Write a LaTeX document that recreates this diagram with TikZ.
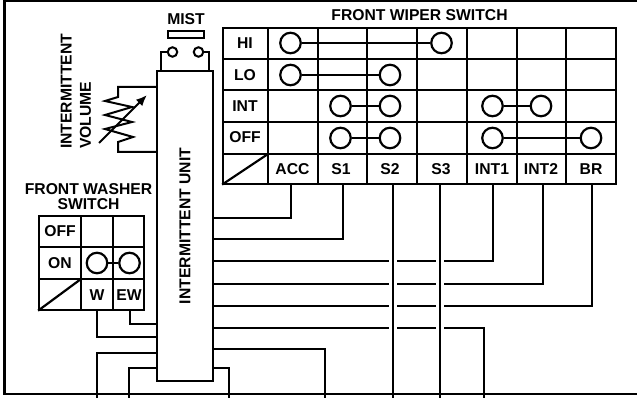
\documentclass[tikz,border=0pt]{standalone}
\usepackage{fontspec}
\setmainfont{Liberation Sans}
\usetikzlibrary{arrows.meta}
\tikzset{
grid/.style={line width=2.2pt,line cap=rect},
wire/.style={line width=2pt,line join=miter},
gap/.style={draw=white,line width=8pt},
terminal/.style={draw,circle,line width=2.2pt,inner sep=0pt,minimum size=20.5pt},
pinhole/.style={draw,circle,line width=2pt,inner sep=0pt,minimum size=9.5pt},
lbl/.style={font=\fontsize{15.7}{15.7}\selectfont\bfseries,inner sep=0pt,align=center}}

\begin{document}
\begin{tikzpicture}[x=1pt,y=-1pt]
  \useasboundingbox (0,0) rectangle (637,398);
  % frame
  \draw[grid,line cap=butt] (637,1) -- (4.5,1) -- (4.5,394) -- (637,394);

  % wiper switch table
  \foreach \xx in {223,268,318,367,417,467,517,566,616} \draw[grid] (\xx,28) -- (\xx,184);
  \foreach \yy in {28,59,90,122,154,184} \draw[grid] (223,\yy) -- (616,\yy);
  \draw[grid] (223,184) -- (268,154);
  \foreach \name/\txt/\yy in {hi/HI/43,lo/LO/75,int/INT/106,off/OFF/137}
    \node[lbl] (\name) at (245,\yy) {\txt};
  \foreach \name/\txt/\xx in {acc/ACC/292.5,sa/S1/341,sb/S2/390,sc/S3/441,inta/INT1/492,intb/INT2/541,br/BR/591}
    \node[lbl] (\name) at (\xx,169) {\txt};
  \node[lbl] (wipertitle) at (419.5,15.5) {FRONT WIPER SWITCH};

  % contacts
  \foreach \name/\xx/\yy in {hiacc/290.5/43,hisc/441.5/43,loacc/290.5/75,losb/390/75,
      intsa/340.5/106,intsb/390/106,intia/492.5/106,intib/541/106,
      offsa/340.5/138,offsb/390/138,offia/492.5/138,offbr/591/138,onw/97/263,onew/129.5/263}
    \node[terminal] (\name) at (\xx,\yy) {};
  \draw[wire] (hiacc) -- (hisc);
  \draw[wire] (loacc) -- (losb);
  \draw[wire] (intsa) -- (intsb);
  \draw[wire] (offsa) -- (offsb);
  \draw[wire] (intia) -- (intib);
  \draw[wire] (offia) -- (offbr);
  \draw[wire] (onw) -- (onew);

  % washer switch table
  \foreach \xx in {39,81,113,144} \draw[grid] (\xx,216) -- (\xx,310);
  \foreach \yy in {216,247,279,310} \draw[grid] (39,\yy) -- (144,\yy);
  \draw[grid] (39,310) -- (81,279);
  \node[lbl] (offw) at (60,231) {OFF};
  \node[lbl] (on) at (60,263) {ON};
  \node[lbl] (w) at (97,295) {W};
  \node[lbl] (ew) at (129,295) {EW};
  \node[lbl] (washertitle) at (88.5,196.5) {FRONT WASHER\\[0pt]SWITCH};

  % unit
  \node[draw,lbl,line width=2.2pt,rotate=90,minimum width=310pt,minimum height=56pt] (unit) at (185,226) {INTERMITTENT UNIT};

  % mist
  \node[lbl] (mist) at (186,19) {MIST};
  \node[draw,line width=2pt,minimum width=36pt,minimum height=7pt,inner sep=0pt] (mistbar) at (185.5,35) {};
  \node[pinhole] (mistl) at (172.5,52) {};
  \node[pinhole] (mistr) at (198.5,52) {};
  \coordinate (mistlb) at (161,71);
  \coordinate (mistrb) at (209,71);
  \draw[wire] (mistl) -| (mistlb);
  \draw[wire] (mistr) -| (mistrb);

  % volume
  \node[lbl,rotate=90,align=left,anchor=west] (volume) at (76,149) {INTERMITTENT\\[3.5pt]VOLUME};
  \coordinate (rtop) at (157,87);
  \coordinate (rbot) at (157,152);
  \draw[wire] (rtop) -- (118,87) -- (118,97) -- (105,101) -- (132,107) -- (105,115) -- (132,122)
    -- (105,129) -- (133,137) -- (118,142) -- (118,152) -- (rbot);
  \coordinate (tail) at (99,143);
  \coordinate (head) at (147,95);
  \draw[wire,-{Latex[length=11pt,width=9pt]}] (tail) -- (head);

  % wires to the right of the unit
  \foreach \name/\xx/\yy in {acc/291/218,sa/343/239,inta/493/261,intb/543/284,br/592/306}{
    \coordinate (\name pin) at (\xx,185);
    \coordinate (\name in) at (213,\yy);
    \draw[wire] (\name pin) |- (\name in);
  }
  \coordinate (lastin) at (213,328);
  \coordinate (lastend) at (484,398);
  \draw[wire] (lastin) -| (lastend);
  \coordinate (downin) at (213,349);
  \coordinate (downend) at (325,398);
  \draw[wire] (downin) -| (downend);
  \foreach \name/\xx in {sb/393,sc/440}{
    \coordinate (\name pin) at (\xx,185);
    \coordinate (\name end) at (\xx,398);
    \draw[gap] (\xx,252) -- (\xx,337);
    \draw[wire] (\name pin) -- (\name end);
  }

  % wires to the left of the unit
  \coordinate (ewpin) at (130,311);
  \coordinate (ewin) at (157,324);
  \draw[wire] (ewpin) |- (ewin);
  \coordinate (wpin) at (97,311);
  \coordinate (win) at (157,337);
  \draw[wire] (wpin) |- (win);
  \coordinate (lefta) at (157,353);
  \coordinate (leftaend) at (97,398);
  \draw[wire] (lefta) -| (leftaend);
  \coordinate (leftb) at (157,368);
  \coordinate (leftbend) at (129,398);
  \draw[wire] (leftb) -| (leftbend);
  \coordinate (rightb) at (213,368);
  \coordinate (rightbend) at (229,398);
  \draw[wire] (rightb) -| (rightbend);
\end{tikzpicture}
\end{document}
